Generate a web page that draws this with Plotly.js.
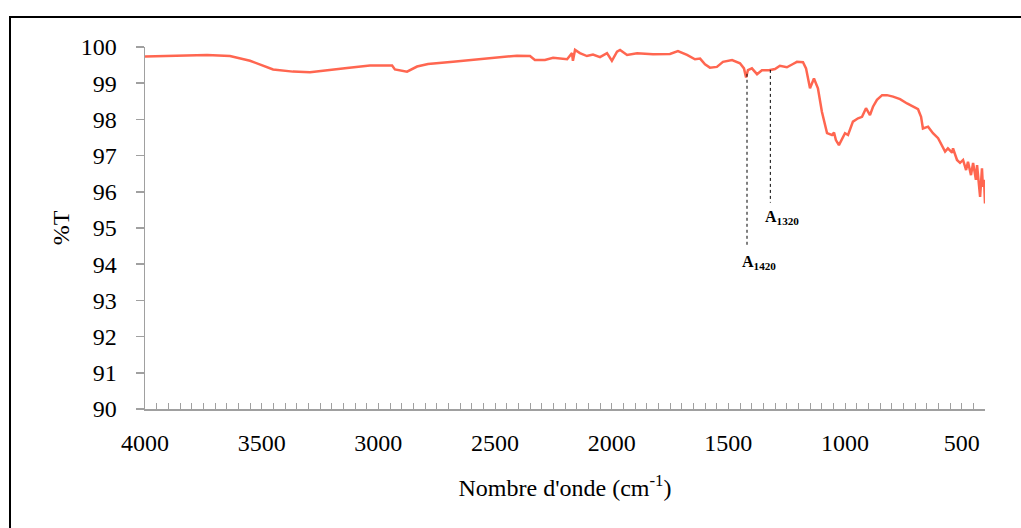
<!DOCTYPE html>
<html>
<head>
<meta charset="utf-8">
<script src="https://cdn.plot.ly/plotly-3.0.1.min.js"></script>
<style>
  html, body { margin: 0; padding: 0; background: #ffffff; }
  #frame { position: absolute; left: 9px; top: 16px; width: 1100px; height: 600px; border: 2px solid #000; box-sizing: border-box; }
  #chart { position: absolute; left: 0; top: 0; width: 1021px; height: 528px; }
</style>
</head>
<body>
<div id="frame"></div>
<div id="chart"></div>
<script>
// FTIR spectrum: wavenumber (cm-1) and transmittance (%T)
const wavenumber = [
  4000, 3900, 3800, 3734, 3636, 3550, 3451, 3366, 3293, 3220, 3134, 3036, 2960, 2941, 2929, 2877, 2834, 2787,
  2680, 2534, 2406, 2350, 2329, 2286, 2251, 2191, 2170, 2166, 2157, 2136, 2106, 2080, 2050, 2020, 1999, 1977,
  1964, 1934, 1891, 1823, 1750, 1716, 1677, 1643, 1621, 1600, 1579, 1549, 1523, 1484, 1450, 1433, 1424, 1416,
  1399, 1377, 1356, 1326, 1300, 1279, 1249, 1223, 1206, 1180, 1167, 1150, 1133, 1116, 1099, 1077, 1056, 1047,
  1039, 1026, 1000, 987, 966, 944, 927, 910, 893, 880, 863, 841, 820, 794, 764, 734, 709, 687, 674, 666,
  644, 623, 601, 584, 571, 559, 541, 537, 520, 507, 494, 481, 473, 460, 451, 439, 434, 421, 413, 409, 404, 400
];
const transmittance = [
  99.74, 99.75, 99.76, 99.78, 99.75, 99.62, 99.38, 99.32, 99.30, 99.36, 99.42, 99.49, 99.50, 99.49, 99.38, 99.32, 99.46, 99.53,
  99.59, 99.69, 99.76, 99.75, 99.64, 99.64, 99.70, 99.66, 99.83, 99.62, 99.92, 99.83, 99.75, 99.79, 99.72, 99.83, 99.62, 99.87,
  99.92, 99.78, 99.83, 99.80, 99.81, 99.89, 99.78, 99.66, 99.68, 99.52, 99.43, 99.45, 99.59, 99.64, 99.55, 99.41, 99.16, 99.36,
  99.41, 99.25, 99.36, 99.36, 99.39, 99.48, 99.44, 99.53, 99.59, 99.58, 99.41, 98.86, 99.13, 98.86, 98.21, 97.62, 97.57, 97.64,
  97.43, 97.29, 97.62, 97.57, 97.94, 98.03, 98.07, 98.31, 98.12, 98.35, 98.54, 98.67, 98.67, 98.63, 98.56, 98.44, 98.35, 98.28, 98.07, 97.75,
  97.80, 97.62, 97.48, 97.29, 97.11, 97.20, 97.08, 97.20, 96.88, 96.80, 96.88, 96.60, 96.83, 96.46, 96.80, 96.33, 96.74, 95.86, 96.65, 96.14, 96.33, 95.68
];

// Marked absorption bands
const bandWavenumbers = [1420, 1320];
const bandLabels = ['1420', '1320'];

// Axis tick labels
const xTickValues = [4000, 3500, 3000, 2500, 2000, 1500, 1000, 500];
const yTickValues = [90, 91, 92, 93, 94, 95, 96, 97, 98, 99, 100];

// Linear interpolation of the spectrum at a given wavenumber
function valueAt(wn) {
  for (let i = 0; i < wavenumber.length - 1; i++) {
    const a = wavenumber[i], b = wavenumber[i + 1];
    if (wn <= a && wn >= b) {
      const t = (a - wn) / (a - b);
      return transmittance[i] + t * (transmittance[i + 1] - transmittance[i]);
    }
  }
  return transmittance[transmittance.length - 1];
}

const serif = "'Liberation Serif', 'Times New Roman', serif";
const axisGrey = '#a0a0a0';

// Lower ends of the dashed marker lines and label heights (%T)
const markerBottoms = [94.5, 95.7];
const labelLevels = [94.05, 95.3];

const shapes = bandWavenumbers.map((wn, i) => ({
  type: 'line', xref: 'x', yref: 'y',
  x0: wn, x1: wn, y0: valueAt(wn), y1: markerBottoms[i],
  line: { color: '#000', width: 1, dash: 'dot' }
}));

const annotations = bandWavenumbers.map((wn, i) => ({
  x: wn, y: labelLevels[i], xref: 'x', yref: 'y',
  text: '<b>A<sub>' + bandLabels[i] + '</sub></b>',
  showarrow: false, xanchor: 'left', yanchor: 'middle', xshift: -7,
  font: { family: serif, size: 16, color: '#000' }
}));

const trace = {
  x: wavenumber, y: transmittance,
  type: 'scatter', mode: 'lines',
  line: { color: '#ff6650', width: 2.5 },
  hoverinfo: 'x+y'
};

const layout = {
  width: 1021, height: 528,
  margin: { l: 145, r: 36, t: 47, b: 119, pad: 0 },
  paper_bgcolor: 'rgba(0,0,0,0)',
  plot_bgcolor: 'rgba(0,0,0,0)',
  showlegend: false,
  font: { family: serif, color: '#000' },
  xaxis: {
    range: [4000, 400],
    tickmode: 'array', tickvals: xTickValues,
    ticks: 'inside', ticklen: 6, tickcolor: axisGrey, tickwidth: 1,
    minor: { dtick: 50, tick0: 0, ticks: 'inside', ticklen: 6, tickcolor: axisGrey, tickwidth: 1, showgrid: false },
    showline: true, linecolor: axisGrey, linewidth: 1.5,
    showgrid: false, zeroline: false,
    ticklabelstandoff: 12,
    tickfont: { family: serif, size: 24, color: '#000' },
    title: { text: "Nombre d'onde (cm<sup>-1</sup>)", font: { family: serif, size: 24, color: '#000' }, standoff: 24 }
  },
  yaxis: {
    range: [90, 100],
    tickmode: 'array', tickvals: yTickValues,
    ticks: 'outside', ticklen: 8, tickcolor: axisGrey, tickwidth: 1.5,
    showline: true, linecolor: axisGrey, linewidth: 1.5,
    showgrid: false, zeroline: false,
    ticklabelstandoff: 14,
    tickfont: { family: serif, size: 24, color: '#000' },
    title: { text: '%T', font: { family: serif, size: 24, color: '#000' }, standoff: 4 }
  },
  shapes: shapes,
  annotations: annotations
};

Plotly.newPlot('chart', [trace], layout, { displayModeBar: false, staticPlot: true });
</script>
</body>
</html>
